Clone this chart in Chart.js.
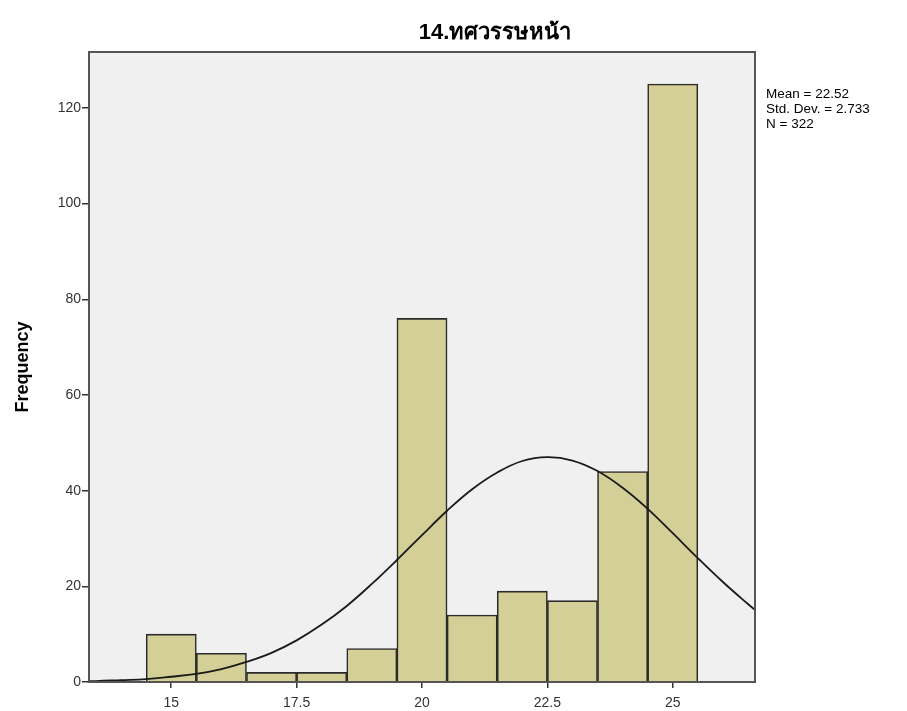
<!DOCTYPE html>
<html>
<head>
<meta charset="utf-8">
<script src="https://cdn.jsdelivr.net/npm/chart.js@4/dist/chart.umd.min.js"></script>
<style>
  html, body { margin: 0; padding: 0; background: #fff; }
  #wrap { width: 907px; height: 711px; }
</style>
</head>
<body>
<div id="wrap"><canvas id="chart"></canvas></div>
<script>
// histogram bins (bin centre) and counts
var binCenters = [15, 16, 17, 18, 19, 20, 21, 22, 23, 24, 25];
var binCounts = [10, 6, 2, 2, 7, 76, 14, 19, 17, 44, 125];

// fitted normal curve
var curveX = [13.36, 13.5, 14, 14.5, 15, 15.5, 16, 16.5, 17, 17.5, 18, 18.5, 19, 19.5, 20, 20.5, 21, 21.5, 22, 22.5, 23, 23.5, 24, 24.5, 25, 25.5, 26, 26.5, 26.64];
var curveY = [0.2, 0.2, 0.4, 0.6, 1.1, 1.7, 2.7, 4.2, 6.1, 8.7, 12, 15.9, 20.5, 25.5, 30.7, 35.8, 40.3, 43.8, 46.2, 47, 46.3, 44.1, 40.6, 36.2, 31.1, 25.9, 20.9, 16.3, 15.1];

var xTicks = [15, 17.5, 20, 22.5, 25];
var yTicks = [0, 20, 40, 60, 80, 100, 120];

var titleText = '14.ทศวรรษหน้า';
var statsLines = ['Mean = 22.52', 'Std. Dev. = 2.733', 'N = 322'];

/**
 * Draws the grey plot background, frame, title and stats box
 */
var frame = {
  id: 'frame',
  beforeDatasetsDraw: function (chart) {
    var a = chart.chartArea, ctx = chart.ctx;
    ctx.save();
    ctx.fillStyle = '#f0f0f0';
    ctx.fillRect(a.left, a.top, a.right - a.left, a.bottom - a.top);
    ctx.restore();
  },
  afterDatasetsDraw: function (chart) {
    var a = chart.chartArea, ctx = chart.ctx;
    ctx.save();
    ctx.strokeStyle = '#555';
    ctx.lineWidth = 2;
    ctx.strokeRect(a.left, a.top, a.right - a.left, a.bottom - a.top);

    ctx.fillStyle = '#000';
    ctx.font = 'bold 22px "Liberation Sans", Arial, sans-serif';
    ctx.textAlign = 'center';
    ctx.textBaseline = 'middle';
    ctx.fillText(titleText, 495, 33);

    ctx.font = '13.5px "Liberation Sans", Arial, sans-serif';
    ctx.textAlign = 'left';
    statsLines.forEach(function (s, i) {
      ctx.fillText(s, 766, 94 + i * 15);
    });
    ctx.restore();
  }
};

var ctx = document.getElementById('chart').getContext('2d');
var chart = new Chart(ctx, {
  data: {
    datasets: [
      {
        type: 'bar',
        data: binCenters.map(function (x, i) { return { x: x, y: binCounts[i] }; }),
        backgroundColor: '#d3cf97',
        borderColor: '#2a2a2a',
        borderWidth: 1.6,
        barPercentage: 1,
        categoryPercentage: 1,
        order: 2
      },
      {
        type: 'line',
        data: curveX.map(function (x, i) { return { x: x, y: curveY[i] }; }),
        borderColor: '#1a1a1a',
        borderWidth: 1.8,
        pointRadius: 0,
        tension: 0.4,
        fill: false,
        order: 1
      }
    ]
  },
  options: {
    responsive: true,
    maintainAspectRatio: false,
    animation: false,
    layout: { padding: { left: 0, right: 152, top: 52, bottom: 0 } },
    plugins: {
      legend: { display: false },
      tooltip: { enabled: false }
    },
    scales: {
      x: {
        type: 'linear',
        min: 13.36,
        max: 26.64,
        offset: false,
        afterBuildTicks: function (scale) {
          scale.ticks = xTicks.map(function (v) { return { value: v }; });
        },
        afterFit: function (scale) { scale.height = 29; },
        grid: { offset: false, drawOnChartArea: false, tickLength: 6, color: '#333', lineWidth: 1.5 },
        border: { display: false },
        ticks: {
          color: '#333',
          padding: 7,
          maxRotation: 0,
          font: { family: '"Liberation Sans", Arial, sans-serif', size: 14 }
        }
      },
      y: {
        min: 0,
        max: 131.7,
        afterBuildTicks: function (scale) {
          scale.ticks = yTicks.map(function (v) { return { value: v }; });
        },
        afterFit: function (scale) { scale.width = 89; },
        grid: { drawOnChartArea: false, tickLength: 7, color: '#333', lineWidth: 1.5 },
        border: { display: false },
        ticks: {
          color: '#333',
          padding: 1,
          font: { family: '"Liberation Sans", Arial, sans-serif', size: 14 }
        },
        title: {
          display: true,
          text: 'Frequency',
          color: '#000',
          padding: { top: 12, bottom: 0 },
          font: { family: '"Liberation Sans", Arial, sans-serif', size: 18, weight: 'bold' }
        }
      }
    }
  },
  plugins: [frame]
});
</script>
</body>
</html>
